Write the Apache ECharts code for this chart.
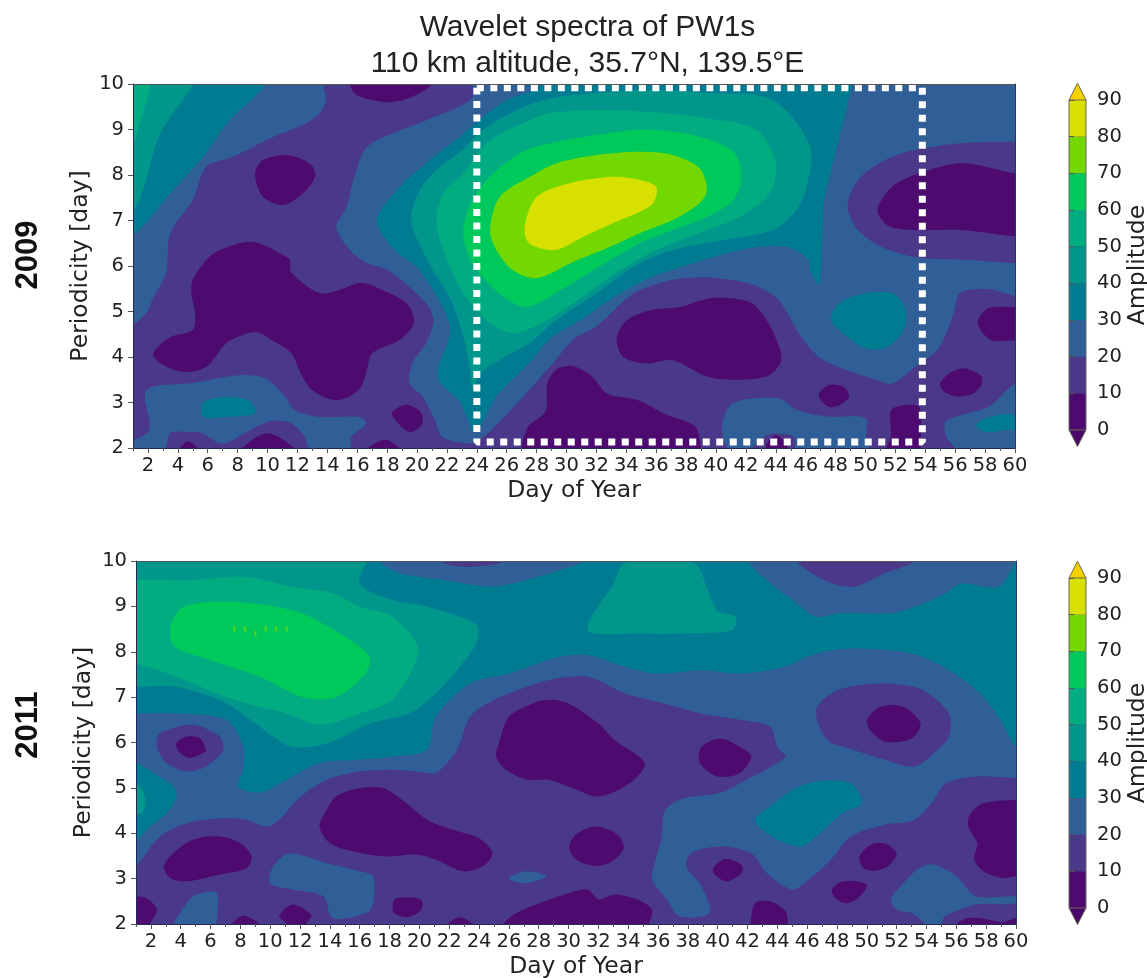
<!DOCTYPE html>
<html><head><meta charset="utf-8">
<style>html,body{margin:0;padding:0;background:#fff}#c{width:1147px;height:978px}</style>
<script src="https://cdn.jsdelivr.net/npm/echarts@6/dist/echarts.min.js"></script>
</head><body><div id="c"></div>
<script>
// Colour bands: index i covers amplitude i*10 .. (i+1)*10
const bandLevels = [0,10,20,30,40,50,60,70,80,90];
const bandColors = ['#4e0b6f','#4a3888','#2f5f96','#007c92','#00968c','#00ac80','#00c95c','#72d800','#d8e000'];
const overColor = '#f4d000', underColor = '#4a0668';
const dayLabels = [2,4,6,8,10,12,14,16,18,20,22,24,26,28,30,32,34,36,38,40,42,44,46,48,50,52,54,56,58,60];
const oddDays = [1,3,5,7,9,11,13,15,17,19,21,23,25,27,29,31,33,35,37,39,41,43,45,47,49,51,53,55,57,59];
const boxDays = [24,53.8,53.8,24,24];
const boxPeriods = [9.92,9.92,2.13,2.13,9.92];

// ---- 2009 contour regions, [day, period] outlines ----
const a09_b2_topLeft = [[0,10.3],[13.7,10.3],[13.7,10],[13.9,9.65],[13.5,9.36],[12.6,9.14],[10.4,8.84],[7.7,8.4],[5.9,8.18],[5,7.45],[3.5,6.73],[3.2,5.85],[2.3,5.26],[1.9,4.97],[1,4.7],[0,4.6]];
const a09_b2_main = [[23.7,10.3],[23.7,9.7],[20.6,9.2],[18.4,8.92],[16.6,8.6],[15.75,7.9],[15.3,7.3],[14.6,6.86],[15.5,6.35],[16.6,6.07],[18.1,5.9],[20.6,5.18],[21.1,4.8],[20.6,4.3],[19.7,3.87],[19.5,3.43],[20.4,3.12],[21.2,2.6],[21.7,2.24],[23.4,2.1],[24.2,2.2],[25,2.4],[27.1,3.13],[29.1,3.86],[30.5,4.4],[32,4.67],[34.5,5.4],[37.1,5.7],[39.6,5.75],[42.4,5.6],[44.2,5.25],[45.7,4.44],[47.2,3.93],[50.8,3.49],[51.8,3.42],[53.3,3.78],[54.9,4.2],[55.9,4.96],[56.3,5.4],[58,5.5],[61,5.4],[61,10.3]];
const a09_b2_lowLeft = [[1.9,3.27],[5,3.43],[8.1,3.6],[9.9,3.53],[11.2,3.12],[11.8,2.83],[13.6,2.68],[16.1,2.68],[16.6,2.54],[15.6,2.24],[15.5,1.9],[12.9,1.9],[12.5,2.24],[11.6,2.54],[10.3,2.6],[9.2,2.46],[7.4,2.13],[6.8,2.1],[5.6,2.33],[4.6,2.35],[3.5,2.33],[3,1.9],[0,1.9],[0,2.17],[1,2.17],[2.1,2.4]];
const a09_b2_lowMid = [[40.4,2.47],[41.1,2.98],[44.2,3.09],[45.45,2.83],[47.5,2.69],[50,2.65],[50,2.17],[50.3,1.9],[45.45,1.9],[45.2,2.25],[43.9,2.32],[43.2,2.25],[42.4,2.02],[40.9,1.95]];
const a09_b2_lowRight = [[60,3.42],[58.2,2.9],[55.4,2.6],[55.4,2.25],[56,2],[56,1.9],[61,1.9],[61,3.42]];
const a09_b3_topLeft = [[0,10.3],[9.9,10.3],[9.9,10],[7.3,9.14],[5.7,8.4],[3.7,7.67],[1.1,6.7],[0,6.6]];
const a09_b3_main = [[17.3,7],[18.85,7.74],[20.6,8.26],[21.5,8.5],[22.9,8.84],[24.4,9.28],[26,9.65],[28.2,9.94],[28.5,10.3],[49,10.3],[48.8,9.58],[48.25,8.85],[47.7,8.1],[47.2,7.38],[47.1,6.65],[46.9,5.6],[46.3,5.9],[46.2,6.13],[44.7,6.43],[41.6,6.35],[37.8,5.99],[36,5.8],[33.6,5.4],[31.1,4.85],[28.9,4.4],[27.5,3.86],[25.3,3.13],[24,2.35],[23.7,2.4],[22.9,3],[21.4,3.56],[22.2,4.66],[20.2,5.9],[18.5,6.35]];
const a09_b3_blob = [[47.7,4.81],[48.25,5.18],[50,5.4],[51.8,5.4],[52.7,5.03],[52.45,4.52],[51.3,4.2],[50,4.19],[48.8,4.44]];
const a09_b3_lowLeft = [[5.7,3],[7.2,3.12],[8.7,3.05],[9.2,2.77],[7.2,2.68],[5.7,2.68]];
const a09_b3_lowRight = [[57.4,2.5],[58,2.65],[59.5,2.75],[60,2.7],[60,2.4],[59.5,2.4],[58,2.35]];
const a09_b4_topLeft = [[0,10.3],[5,10.3],[5,10],[2.8,8.9],[1.7,7.7],[1,7.2],[0,7.1]];
const a09_b4_main = [[19.6,7],[20.2,7.67],[21.5,8.18],[22.9,8.51],[24.4,9],[26.7,9.43],[28.9,9.68],[32,9.8],[35.4,9.87],[39.4,9.8],[43.8,9.65],[46.3,8.62],[46,7.67],[45.2,7.16],[43.8,6.79],[40.5,6.57],[37.1,6.35],[34.5,5.99],[32,5.4],[29.3,4.81],[27.5,4.3],[25.5,3.93],[24.2,3.64],[23.76,3.28],[23.4,4],[23.1,4.45],[22.2,5.3],[20.9,6]];
const a09_b5_topLeft = [[0,10.3],[2.2,10.3],[2.2,10],[1.5,9.2],[1,8.7],[0,8.6]];
const a09_b5_main = [[21.3,6.94],[21.75,7.6],[23.1,8.04],[24.9,8.77],[27.1,9.14],[28.9,9.36],[32,9.43],[35.4,9.39],[39.4,9.25],[42.7,9],[44,8.26],[43.6,7.6],[41.6,7.08],[39.4,6.79],[36,6.35],[33.6,5.91],[31.1,5.33],[28.7,4.81],[26.4,4.52],[24.65,4.81],[23.1,5.4],[22,6.13]];
const a09_b6_main = [[23.1,6.79],[23.5,7.3],[24.65,7.89],[26.9,8.48],[28.9,8.7],[32,8.88],[35.4,9],[38.9,8.84],[41.15,8.51],[41.7,7.96],[41.15,7.45],[39.4,7.08],[37.1,6.79],[34.9,6.5],[32.2,5.99],[30,5.55],[27.3,5.1],[25.5,5.4],[24,5.91],[23.3,6.35]];
const a09_b7_main = [[24.87,6.79],[25.54,7.52],[27.55,7.96],[29.33,8.26],[32,8.44],[34.9,8.51],[37.1,8.44],[38.9,8.15],[39.4,7.67],[38.9,7.38],[37.1,7.01],[34.9,6.72],[32.7,6.39],[30.45,6.09],[28,5.73],[26.4,5.91],[25.3,6.35]];
const a09_b8_main = [[27.2,6.86],[28,7.52],[30.2,7.82],[33.1,7.96],[34.9,7.89],[36,7.74],[35.8,7.38],[34.7,7.16],[33.1,6.94],[31.1,6.64],[29.2,6.35],[27.5,6.5]];
const a09_b1_rightRing = [[61,8.73],[60,8.73],[56.4,8.7],[53.3,8.55],[51.3,8.33],[49.5,7.89],[48.8,7.31],[49.5,6.79],[51,6.43],[53.3,6.2],[56.9,6.13],[60,6.06],[61,6.06]];
const a09_b0_right = [[61,8.04],[60,8.04],[56.4,8.26],[53.6,8.04],[51.8,7.75],[50.8,7.23],[51.6,6.87],[53.6,6.79],[56.4,6.79],[60,6.65],[61,6.65]];
const a09_b0_edge = [[57.5,4.74],[58.2,5.07],[60,5.1],[61,5.1],[61,4.38],[60,4.37],[58.4,4.37]];
const a09_b0_spot56 = [[55,3.42],[55.6,3.64],[56.65,3.75],[57.7,3.6],[57.8,3.42],[57.2,3.2],[56.15,3.13],[55.25,3.24]];
const a09_b0_spot48 = [[46.85,3.16],[47.5,3.38],[48.5,3.35],[48.9,3.13],[48.25,2.94],[47.5,2.91]];
const a09_b0_low30 = [[27.2,1.9],[27.4,2.45],[28.6,2.8],[28.7,3.4],[29.3,3.72],[30.4,3.8],[31.7,3.57],[32.7,3.2],[34.8,3.05],[36.5,2.76],[38.6,2.47],[39,2],[39,1.9]];
const a09_b0_mid38 = [[33.35,4.4],[34,4.8],[35.6,5.03],[37.6,5.1],[39.8,5.3],[42.3,5.2],[43.4,4.8],[44.3,4.15],[44.3,3.86],[43.4,3.57],[41.15,3.5],[39.4,3.57],[37.1,3.93],[35.35,3.86],[33.8,4]];
const a09_b0_big = [[6.8,6.35],[9.05,6.53],[11.3,6.2],[11.5,6.13],[11.6,5.85],[13.5,5.4],[14.8,5.47],[16.2,5.63],[17.5,5.5],[19.3,5.18],[19.8,4.75],[18.8,4.37],[17,4.08],[16.6,3.65],[16.1,3.27],[14.6,3.05],[13,3.27],[12.2,3.65],[11.6,4.08],[10.3,4.37],[9.2,4.55],[7.5,4.37],[7,4.22],[5.9,3.78],[4.4,3.67],[2.8,3.87],[2.35,4.08],[3.5,4.44],[5,4.59],[5.15,4.96],[4.9,5.4],[5,5.69],[5.9,6.13]];
const a09_b0_spot8 = [[9.16,8.04],[9.7,8.33],[11.3,8.44],[12.8,8.26],[13.2,8],[12.6,7.67],[11.1,7.34],[9.7,7.52]];
const a09_b0_top = [[15.5,10.3],[15.5,10],[15.96,9.76],[18,9.6],[19.6,9.71],[21,10],[21,10.3]];
const a09_b0_spot20 = [[18.3,2.77],[19.3,2.95],[20.3,2.77],[20.3,2.5],[19.5,2.35],[18.75,2.54]];
const a09_b0_bump5 = [[4.14,1.9],[4.14,2],[4.7,2.15],[5.3,2],[5.3,1.9]];
const a09_b0_bump10 = [[8.3,1.9],[8.3,2],[10,2.33],[11.8,2],[11.8,1.9]];
const a09_b0_bump18 = [[16.7,1.9],[16.7,2],[17.9,2.18],[18.8,2],[18.8,1.9]];
const a09_b0_bump44 = [[43.4,1.9],[43.4,2.1],[44,2.28],[44.7,2.1],[44.7,1.9]];
const a09_b0_low53 = [[51.7,2.25],[51.7,2.83],[52.6,2.94],[53.6,2.9],[53.7,1.95],[53.7,1.9],[51.4,1.9],[51.4,2]];

const regions2009 = [
  [2,a09_b2_topLeft],[2,a09_b2_main],[2,a09_b2_lowLeft],[2,a09_b2_lowMid],[2,a09_b2_lowRight],
  [3,a09_b3_topLeft],[3,a09_b3_main],[3,a09_b3_blob],[3,a09_b3_lowLeft],[3,a09_b3_lowRight],
  [4,a09_b4_topLeft],[4,a09_b4_main],[5,a09_b5_topLeft],[5,a09_b5_main],[6,a09_b6_main],[7,a09_b7_main],[8,a09_b8_main],
  [1,a09_b1_rightRing],
  [0,a09_b0_right],[0,a09_b0_edge],[0,a09_b0_spot56],[0,a09_b0_spot48],[0,a09_b0_low30],[0,a09_b0_mid38],[0,a09_b0_big],[0,a09_b0_spot8],[0,a09_b0_top],[0,a09_b0_spot20],[0,a09_b0_bump5],[0,a09_b0_bump10],[0,a09_b0_bump18],[0,a09_b0_bump44],[0,a09_b0_low53]
];

// ---- 2011 contour regions ----
const a11_b2_main = [[0,10.3],[61,10.3],[61,5.22],[60,5.22],[57.3,5.25],[55.3,5.1],[54.5,4.74],[53.2,4.3],[51.2,4.19],[48.9,3.93],[47.6,3.42],[46.1,2.98],[45,2.76],[43.3,3.12],[42.25,3.56],[40.2,3.71],[38.2,3.56],[37.9,3.27],[38.9,2.83],[39.45,2.24],[37.4,2.17],[36.6,2.54],[35.6,2.98],[35.9,3.49],[36.25,3.93],[36.4,4.45],[37.4,4.74],[40.2,4.89],[41.5,5.1],[44,5.55],[44.55,5.69],[44,5.9],[43.5,6.35],[41.5,6.5],[38.9,6.64],[36.4,6.86],[33.8,7.08],[31.3,7.45],[28.7,7.38],[27.2,7.23],[25,6.94],[23.4,6.57],[22.5,5.83],[21.1,5.33],[20,5.36],[18.2,5.4],[16,5.36],[13.8,5.18],[12,4.8],[10.6,4.3],[9.75,4.15],[8.4,4.3],[6.6,4.33],[4.4,4.22],[2.6,3.93],[1,3.27],[0,3.1]];
const a11_b2_low5 = [[3.5,1.9],[3.5,2],[4.4,2.46],[5.06,2.65],[6.4,2.68],[6.4,2],[6.4,1.9]];
const a11_b2_low14 = [[10,2.9],[10.2,3.27],[11.3,3.56],[13.8,3.34],[16,3.16],[16.9,3.05],[16.9,2.46],[16.45,2.24],[14.2,2.13],[13.55,2.61],[11.5,2.76]];
const a11_b2_low54 = [[51.6,2.54],[52.45,2.9],[53.5,3.23],[54.5,3.31],[56,3.05],[57.3,2.61],[60,2.6],[60,2.45],[57.3,2.43],[55.25,2.17],[55,2],[55,1.9],[53.9,1.9],[53.9,2],[53,2.24],[52,2.32]];
const a11_b2_spike27 = [[26,3],[27.2,3.16],[28.5,3.05],[27.2,2.9]];
const a11_b3_main = [[0,10.3],[61,10.3],[61,5.9],[60,5.9],[59.1,6.42],[57.6,7.08],[55.5,7.6],[53,7.96],[49.1,8.07],[46.6,7.96],[44.5,7.67],[41.5,7.52],[38.9,7.6],[35.9,7.52],[33.8,7.67],[31.3,7.93],[29.4,7.89],[26,7.52],[23.4,7.3],[21.1,6.57],[20.5,5.84],[18.2,5.69],[16,5.62],[13.3,5.55],[11.1,5.18],[9.3,4.9],[7.85,5.03],[8.2,5.4],[8.2,5.9],[7.07,6.5],[3.7,6.64],[1,6.64],[0,6.64]];
const a11_b3_leftPatch = [[0,5.55],[1,5.55],[2.16,5.33],[3.5,5.03],[3.72,4.8],[3.05,4.44],[1.94,4.15],[1,3.86],[0,3.8]];
const a11_b3_blob = [[42.5,4.3],[43.5,4.59],[45.06,4.96],[46.6,5.14],[48.9,5.1],[49.65,4.66],[48.4,4.45],[46.6,3.93],[45.6,3.71],[44,3.86],[43,4.08]];
const a11_b2_topMid = [[17.3,10.3],[17.3,10],[18.7,9.73],[21.6,9.58],[24.9,9.43],[27.2,9.58],[29.4,9.8],[31,10],[31,10.3]];
const a11_b2_topRight = [[42,10.3],[42,10],[43.8,9.43],[45,9.14],[46.6,8.77],[48.1,8.85],[51.7,8.85],[53.2,8.99],[55.3,9.29],[56.3,9.5],[58.8,9.43],[60,10],[60.5,10.3]];
const a11_b4_topLeft = [[0,10.3],[17,10.3],[16.5,10],[16,9.5],[18.2,9.14],[20.5,9],[23.8,8.6],[23.8,8.18],[22.7,7.67],[21.1,7.08],[19.3,6.64],[16.7,6.42],[13.8,5.98],[11.5,5.9],[10.2,6.13],[8.4,6.57],[6.6,6.94],[3.7,7.23],[1,7.23],[0,7.23]];
const a11_b4_center = [[31.3,8.48],[33,9.5],[33.8,9.95],[38.4,9.95],[39.4,9.3],[40,8.9],[41.2,8.77],[41,8.48],[37.4,8.4],[34.6,8.4]];
const a11_b4_leftSpot = [[0,5.1],[1,5.1],[1.6,4.8],[1.5,4.5],[1,4.4],[0,4.4]];
const a11_b5_topLeft = [[0,9.43],[4.8,9.58],[8.4,9.65],[11.5,9.43],[14.2,9.29],[16,8.99],[18.2,8.77],[19.9,8.11],[19.6,7.67],[18.2,6.94],[16,6.64],[13.3,6.39],[11.1,6.64],[9.3,6.79],[7.07,7],[3.7,7.45],[1,7.74],[0,7.74]];
const a11_b6_peak = [[3.3,8.55],[4.2,8.99],[7.07,9.1],[10.4,8.99],[12.65,8.77],[16,8.11],[16.7,7.82],[16.2,7.45],[14.4,7],[12.2,7],[9.3,7.45],[5.95,7.82],[3.6,8.11]];
const a11_b1_topSpot = [[45.3,10.3],[45.3,10],[47.1,9.58],[49.1,9.43],[51.2,9.73],[53.2,10],[53.2,10.3]];
const a11_b1_topSmall = [[21.4,10.3],[21.4,10],[23.1,9.87],[25.8,10],[25.8,10.3]];
const a11_b1_ringRight = [[46.6,6.72],[48.1,7.16],[51.2,7.3],[53.7,7.16],[55.5,6.64],[55.5,6.13],[54.75,5.84],[53.2,5.47],[51.2,5.62],[49.1,5.84],[47.35,6.06]];
const a11_b1_ringLeft = [[2.4,5.9],[2.6,6.2],[4.8,6.39],[6.6,6.13],[6.85,5.84],[5.7,5.47],[4.4,5.36],[3.05,5.55]];
const a11_b0_ringLeft = [[3.7,5.98],[4.4,6.13],[5.3,6.09],[5.7,5.83],[5.5,5.77],[4.6,5.66],[3.95,5.77]];
const a11_b0_ringRight = [[50,6.5],[50.9,6.79],[52.45,6.79],[53.6,6.42],[53,6.09],[51.2,6.02],[50.2,6.28]];
const a11_b0_left3 = [[2.87,3.27],[3.5,3.56],[4.85,3.86],[6.6,3.93],[8,3.78],[8.75,3.49],[8.4,3.23],[6.6,3.09],[4.4,2.94],[3.3,3.01]];
const a11_b0_big = [[13.3,4.15],[13.8,4.52],[14.4,4.81],[16,4.99],[17.6,4.99],[19.1,4.67],[20.5,4.3],[22.2,4.08],[24,3.89],[24.9,3.56],[24.25,3.27],[22.9,3.16],[21.1,3.42],[19.8,3.53],[17.8,3.49],[15.55,3.6],[14,3.78]];
const a11_b0_corner = [[0,2.61],[1,2.61],[1.7,2.57],[2.4,2.32],[1.94,2],[1.94,1.9],[0,1.9]];
const a11_b0_bump8 = [[7.4,1.9],[7.4,2],[8.2,2.18],[9.3,2],[9.3,1.9]];
const a11_b0_bump12 = [[10.6,2.17],[11.5,2.43],[12.75,2.2],[12.4,2],[12.4,1.9],[11.1,1.9],[11.1,2]];
const a11_b0_spot19 = [[18.2,2.39],[18.45,2.57],[20.1,2.54],[20.1,2.3],[19.1,2.15],[18.3,2.24]];
const a11_b0_bump22 = [[21.9,1.9],[21.9,2],[22.7,2.15],[23.6,2],[23.6,1.9]];
const a11_b0_lowLong = [[25.6,1.9],[25.6,2],[26.5,2.24],[28.05,2.46],[30,2.68],[31.3,2.76],[32,2.54],[33.1,2.65],[34.6,2.54],[35.6,2.32],[35.4,2],[35.4,1.9]];
const a11_b0_center = [[28.7,6.94],[30,6.86],[32,6.42],[33.1,6.05],[35.1,5.55],[34.1,5.1],[32,4.81],[30,5.03],[28.7,5.18],[27.2,5.18],[25.8,5.4],[25.15,5.69],[25.4,6.06],[26,6.57],[27.6,6.86]];
const a11_b0_spot40 = [[38.9,5.9],[40.2,6.09],[41.5,5.9],[42.25,5.69],[41.5,5.33],[40,5.25],[38.8,5.55]];
const a11_b0_spot32 = [[30.05,3.71],[30.6,4],[31.9,4.15],[33.3,3.97],[33.7,3.67],[32.9,3.38],[31.8,3.28],[30.5,3.42]];
const a11_b0_spot41 = [[39.7,3.23],[40.5,3.43],[41.6,3.3],[41.6,3.12],[40.6,2.94],[39.8,3.09]];
const a11_b0_bump44 = [[42.2,1.9],[42.2,2],[42.5,2.46],[43.5,2.5],[44.55,2.28],[44.7,2],[44.7,1.9]];
const a11_b0_spot51 = [[49.5,3.49],[50.4,3.77],[51.4,3.75],[52,3.53],[51.2,3.23],[49.9,3.2]];
const a11_b0_spot49 = [[47.66,2.76],[48.4,2.94],[50,2.87],[49.4,2.57],[48.6,2.46],[47.9,2.57]];
const a11_b0_right = [[61,4.74],[60,4.74],[57.8,4.66],[56.9,4.41],[56.8,4.15],[57.4,3.78],[57.2,3.42],[57.8,3.16],[59.1,3.01],[60,3.05],[61,3.05]];
const a11_b0_lowRight = [[56,1.9],[56,2],[56.8,2.13],[58.1,2.1],[59.1,2.04],[60,2.13],[61,2.13],[61,1.9]];
const a11_peakSpecks = [[7.6,8.5],[8.3,8.5],[9,8.4],[9.7,8.5],[10.4,8.5],[11.1,8.5]];

const regions2011 = [
  [2,a11_b2_main],[2,a11_b2_low5],[2,a11_b2_low14],[2,a11_b2_low54],[2,a11_b2_spike27],
  [3,a11_b3_main],[3,a11_b3_leftPatch],[3,a11_b3_blob],
  [2,a11_b2_topMid],[2,a11_b2_topRight],
  [4,a11_b4_topLeft],[4,a11_b4_center],[4,a11_b4_leftSpot],[5,a11_b5_topLeft],[6,a11_b6_peak],
  [1,a11_b1_topSpot],[1,a11_b1_topSmall],[1,a11_b1_ringRight],[1,a11_b1_ringLeft],
  [0,a11_b0_ringLeft],[0,a11_b0_ringRight],[0,a11_b0_left3],[0,a11_b0_big],[0,a11_b0_corner],[0,a11_b0_bump8],[0,a11_b0_bump12],[0,a11_b0_spot19],[0,a11_b0_bump22],[0,a11_b0_lowLong],[0,a11_b0_center],[0,a11_b0_spot40],[0,a11_b0_spot32],[0,a11_b0_spot41],[0,a11_b0_bump44],[0,a11_b0_spot51],[0,a11_b0_spot49],[0,a11_b0_right],[0,a11_b0_lowRight]
];

const axisColor = '#222', tickColor = '#555', labelFont = 19.5, nameFont = 23.5, fam = '"DejaVu Sans"';
const grids = [
  {left:133,top:84,width:882,height:364},
  {left:136,top:561,width:880,height:363},
  {left:1069,top:100,width:17,height:330},
  {left:1069,top:578,width:17,height:330}
];
const xAxes = [], yAxes = [], series = [];

function contourSeries(regions, xi, yi){
  return {
    type:'custom', coordinateSystem:'cartesian2d', xAxisIndex:xi, yAxisIndex:yi, z:2, silent:true, animation:false, clip:true,
    data: regions.map((r,i)=>[r[1][0][0], r[1][0][1], r[0], i]),
    renderItem(params, api){
      const r = regions[params.dataIndex];
      return {type:'polygon',
        shape:{points:r[1].map(p=>api.coord(p)), smooth:0.3},
        style:{fill:bandColors[r[0]], stroke:null}};
    }
  };
}

[0,1].forEach(k=>{
  const base = xAxes.length;
  xAxes.push({gridIndex:k,type:'value',min:1,max:60,position:'bottom',z:5,
    name:'Day of Year',nameLocation:'middle',nameGap:31,nameTextStyle:{fontFamily:fam,fontSize:nameFont,color:axisColor},
    axisLine:{show:true,onZero:false,lineStyle:{color:'#1d2a5a',width:1}},
    axisTick:{show:true,length:5,lineStyle:{color:tickColor},customValues:dayLabels},
    axisLabel:{fontFamily:fam,fontSize:labelFont,color:axisColor,margin:8,customValues:dayLabels,hideOverlap:false},
    splitLine:{show:false}});
  xAxes.push({gridIndex:k,type:'value',min:1,max:60,position:'bottom',z:5,
    axisLine:{show:false},axisLabel:{show:false},splitLine:{show:false},
    axisTick:{show:true,length:3,lineStyle:{color:tickColor},customValues:oddDays}});
  xAxes.push({gridIndex:k,type:'value',min:1,max:60,position:'top',z:5,
    axisLine:{show:true,onZero:false,lineStyle:{color:'#555',width:1}},axisLabel:{show:false},axisTick:{show:false},splitLine:{show:false}});
  const ybase = yAxes.length;
  yAxes.push({gridIndex:k,type:'value',min:2,max:10,interval:1,position:'left',z:5,
    name:'Periodicity [day]',nameLocation:'middle',nameGap:40,nameMoveOverlap:false,nameRotate:90,nameTextStyle:{fontFamily:fam,fontSize:nameFont,color:axisColor},
    axisLine:{show:true,onZero:false,lineStyle:{color:'#1d2a5a',width:1}},
    axisTick:{show:true,length:5,lineStyle:{color:tickColor}},
    axisLabel:{fontFamily:fam,fontSize:labelFont,color:axisColor,margin:9},
    splitLine:{show:false}});
  yAxes.push({gridIndex:k,type:'value',min:2,max:10,position:'right',z:5,
    axisLine:{show:true,onZero:false,lineStyle:{color:'#1d3a6a',width:1}},axisLabel:{show:false},axisTick:{show:false},splitLine:{show:false}});
  series.push(contourSeries(k===0?regions2009:regions2011, base, ybase));
  if(k===0){
    series.push({type:'line',xAxisIndex:base,yAxisIndex:ybase,z:4,silent:true,symbol:'none',animation:false,clip:false,
      data:boxDays.map((d,i)=>[d,boxPeriods[i]]),
      lineStyle:{color:'#fff',width:7,type:[7,6.5]}});
  } else {
    series.push({type:'scatter',xAxisIndex:base,yAxisIndex:ybase,z:3,silent:true,animation:false,
      symbol:'rect',symbolSize:[2,5],data:a11_peakSpecks,itemStyle:{color:bandColors[7]}});
  }
});

// colour bars
[2,3].forEach(k=>{
  const xi = xAxes.length, yi = yAxes.length;
  xAxes.push({gridIndex:k,type:'value',min:0,max:1,show:false});
  yAxes.push({gridIndex:k,type:'value',min:0,max:90,interval:10,position:'right',z:5,
    name:'Amplitude',nameLocation:'middle',nameGap:37,nameRotate:90,nameTextStyle:{fontFamily:fam,fontSize:nameFont,color:axisColor},
    axisLine:{show:false},axisTick:{show:true,length:5,lineStyle:{color:tickColor}},
    axisLabel:{fontFamily:fam,fontSize:labelFont,color:axisColor,margin:11},splitLine:{show:false}});
  const barItems = bandColors.map((c,i)=>[0,bandLevels[i],bandLevels[i+1],c,'bar']);
  barItems.push([0,90,94.6,overColor,'up']);
  barItems.push([0,0,-4.5,underColor,'down']);
  series.push({type:'custom',coordinateSystem:'cartesian2d',xAxisIndex:xi,yAxisIndex:yi,z:3,silent:true,animation:false,clip:false,
    data:barItems,
    renderItem(params,api){
      const it = barItems[params.dataIndex];
      const pts = it[4]==='bar'
        ? [api.coord([0,it[1]]),api.coord([1,it[1]]),api.coord([1,it[2]]),api.coord([0,it[2]])]
        : [api.coord([0,it[1]]),api.coord([1,it[1]]),api.coord([0.5,it[2]])];
      return {type:'polygon',shape:{points:pts},style:{fill:it[3],stroke:it[4]==='bar'?null:'#6a6a55',lineWidth:1}};
    }});
  // outline of the bar sides
  series.push({type:'line',xAxisIndex:xi,yAxisIndex:yi,z:4,silent:true,symbol:'none',animation:false,clip:false,
    data:[[0,0],[0,90],[null,null],[1,90],[1,0]],connectNulls:false,
    lineStyle:{color:'#666',width:1}});
});

const chart = echarts.init(document.getElementById('c'),null,{width:1147,height:978});
chart.setOption({
  animation:false,
  backgroundColor:'#fff',
  title:[{text:'Wavelet spectra of PW1s\n110 km altitude, 35.7°N, 139.5°E',left:582.5,top:5,textAlign:'center',
    textStyle:{fontFamily:'"Liberation Sans"',fontWeight:'normal',fontSize:30,lineHeight:36,color:'#222'}}],
  grid:grids.map(g=>Object.assign({show:true,borderWidth:0,backgroundColor:bandColors[1],outerBoundsMode:'none'},g)),
  xAxis:xAxes,yAxis:yAxes,series:series,
  graphic:[
    {type:'text',x:28,y:255,rotation:Math.PI/2,style:{text:'2009',fontFamily:'"Liberation Sans"',fontWeight:'bold',fontSize:31,fill:'#111',textAlign:'center',textVerticalAlign:'middle'}},
    {type:'text',x:28,y:725,rotation:Math.PI/2,style:{text:'2011',fontFamily:'"Liberation Sans"',fontWeight:'bold',fontSize:31,fill:'#111',textAlign:'center',textVerticalAlign:'middle'}}
  ]
});
</script></body></html>
